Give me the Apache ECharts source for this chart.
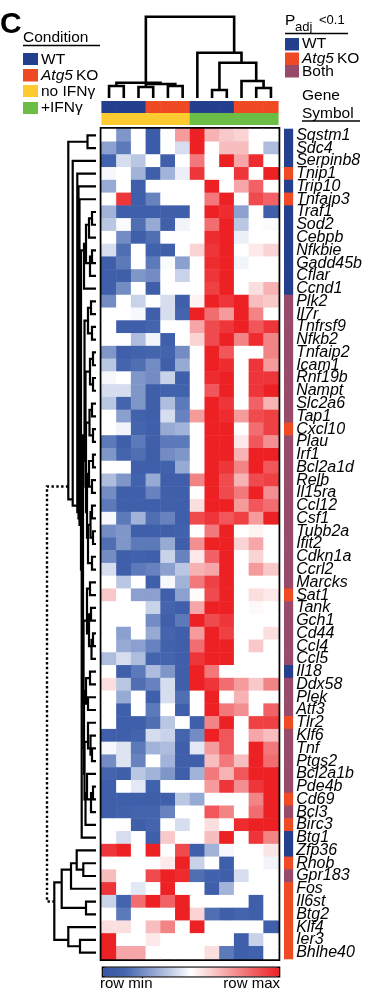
<!DOCTYPE html>
<html><head><meta charset="utf-8">
<script src="https://cdn.jsdelivr.net/npm/echarts@6/dist/echarts.min.js"></script>
<style>html,body{margin:0;padding:0;background:#fff}#c{width:365px;height:990px}</style>
</head><body><div id="c"></div>
<script>
const genes = ['Sqstm1','Sdc4','Serpinb8','Tnip1','Trip10','Tnfaip3','Traf1','Sod2','Cebpb','Nfkbie','Gadd45b','Cflar','Ccnd1','Plk2','Il7r','Tnfrsf9','Nfkb2','Tnfaip2','Icam1','Rnf19b','Nampt','Slc2a6','Tap1','Cxcl10','Plau','Irf1','Bcl2a1d','Relb','Il15ra','Ccl12','Csf1','Tubb2a','Ifit2','Cdkn1a','Ccrl2','Marcks','Sat1','Tank','Gch1','Cd44','Ccl4','Ccl5','Il18','Ddx58','Plek','Atf3','Tlr2','Klf6','Tnf','Ptgs2','Bcl2a1b','Pde4b','Cd69','Bcl3','Birc3','Btg1','Zfp36','Rhob','Gpr183','Fos','Il6st','Btg2','Klf4','Ier3','Bhlhe40'];
const samples = ['WT-1','WT-2','WT-3','KO-1','KO-2','KO-3','WT+1','WT+2','WT+3','KO+1','KO+2','KO+3'];
const genotype = ['WT','WT','WT','KO','KO','KO','WT','WT','WT','KO','KO','KO'];
const treatment = ['no','no','no','no','no','no','ifn','ifn','ifn','ifn','ifn','ifn'];
const significance = ['WT','WT','WT','KO','WT','KO','WT','WT','WT','WT','WT','WT','WT','Both','Both','Both','Both','Both','Both','Both','Both','Both','Both','KO','Both','Both','Both','Both','Both','Both','Both','Both','Both','Both','Both','Both','KO','Both','Both','Both','Both','Both','WT','Both','Both','Both','KO','Both','Both','Both','Both','Both','KO','Both','KO','WT','WT','KO','Both','KO','KO','KO','KO','KO','KO'];
const rowScores = [
[0,-0.5,0,-0.9,0,0.45,1,0.35,0.25,0.2,0,0],
[-0.45,-0.65,0,-0.9,0,-0.15,1,0,0.3,0.3,0,-0.3],
[-0.8,-0.15,-0.25,0,-0.85,0,0.6,0,1,0.4,0.95,0],
[-0.03,0,-0.35,-0.85,-0.35,-0.07,0.9,0,0,0.9,0,1],
[-0.4,0,-0.85,0,0,0,0,1,0,0.4,0.7,0],
[0,0.9,-0.85,-0.6,0,0,0,0.6,1,0,0.8,0.7],
[-0.35,-0.85,-0.85,-0.85,-0.85,-0.85,0,1,0.95,-0.45,0,-0.85],
[-0.25,-0.02,-0.7,-0.4,-0.85,-0.05,0,0.65,1,-0.25,0,-0.02],
[0,-0.55,-0.85,-0.7,0,0,0,0.95,1,-0.07,0,0],
[-0.15,-0.7,0,-0.8,-0.85,0,0.2,0.9,1,0,0.1,0.2],
[-0.85,-0.65,0,-0.65,-0.02,-0.45,0,0.95,1,-0.05,0,0],
[-0.85,-0.85,-0.5,-0.55,0,-0.2,0,0.9,1,0,0,0],
[-0.85,-0.55,0,-0.85,0,0,0,0.85,1,0,0.15,0.35],
[-0.55,0,-0.2,0,-0.15,-0.85,0.05,1,0.9,1,0.3,0.25],
[0,0,-0.03,-0.85,-0.15,-0.75,1,0.65,0.45,1,0.55,0],
[0,-0.85,-0.85,-0.75,0,0,0.4,0.8,0.9,1,0.75,0.9],
[0,0,-0.3,-0.05,-0.85,0,0.2,0.8,1,0.55,0.95,0.55],
[-0.5,-0.85,-0.8,-0.75,-0.75,-0.55,0,1,0.75,0,0,0.55],
[-0.25,-0.75,-0.7,-0.55,-0.85,-0.4,0,1,0.95,0,0.9,0.45],
[-0.03,0,-0.5,-0.55,-0.2,-0.85,0,0.95,1,0,0.9,0.9],
[-0.15,-0.15,-0.5,-0.85,-0.8,-0.8,0,0.75,1,0,0.9,1],
[-0.25,-0.75,-0.5,-0.85,-0.3,-0.65,0,1,0.9,0,0.7,0.35],
[0,-0.45,-0.8,-0.85,-0.15,-0.6,0.45,1,0.95,0.45,0.8,0.85],
[0,-0.05,-0.75,-0.85,-0.4,-0.35,0,1,1,0,0.65,0.85],
[-0.65,-0.85,-0.65,-0.85,-0.65,-0.65,0,1,1,0.1,0.75,0.5],
[-0.5,-0.75,-0.7,-0.85,-0.55,-0.5,0,1,1,0.35,1,1],
[0,0,-0.85,-0.85,-0.8,-0.4,0,1,0.9,0.55,1,0.75],
[-0.3,-0.5,-0.8,-0.4,-0.85,-0.85,0.55,1,0.8,0.35,0.8,0.85],
[-0.55,-0.85,-0.85,-0.6,-0.85,-0.85,0,1,0.8,0.6,1,0.5],
[-0.65,-0.85,-0.85,-0.85,-0.85,-0.85,0.15,1,1,0.45,0.75,0.65],
[-0.03,-0.65,-0.35,-0.7,-0.6,-0.85,0.8,0.9,0.75,0.85,0.45,1],
[-0.55,-0.5,-0.85,-0.85,-0.85,-0.8,0,0.6,1,0,0.05,0],
[-0.7,-0.5,-0.65,-0.65,-0.4,-0.85,0.5,1,1,0.2,0.4,0],
[-0.55,-0.85,-0.8,-0.85,-0.2,-0.6,0.1,0.7,1,0,0.2,0],
[-0.15,-0.85,-0.65,-0.6,-0.45,-0.25,0.35,0.4,1,0,0.45,0.25],
[0,-0.25,0,-0.85,-0.03,-0.35,0.6,0.85,1,0,0,0],
[0.25,0,-0.45,-0.45,-0.85,-0.45,0.02,0.8,1,0,0.15,0.1],
[0,0,0,-0.2,-0.75,-0.85,0.4,1,1,0,0.03,0],
[0,0,0,-0.55,-0.85,-0.65,1,0.8,0.9,0,0,0],
[0,-0.45,0,-0.4,-0.75,-0.85,0.45,1,0.85,0.01,0,0.15],
[0,-0.4,-0.45,-0.6,-0.8,-0.85,0.65,1,1,0,0.25,0],
[-0.3,-0.15,-0.3,-0.75,-0.75,-0.85,0.9,1,1,0,0,0],
[0,-0.85,-0.65,-0.3,-0.5,-0.85,1,0.6,0,0,0,0],
[0.15,-0.25,-0.7,-0.6,-0.15,-0.85,1,0.9,0.65,0.45,0.25,0.55],
[0,-0.4,0,-0.85,-0.15,-0.7,0,1,0,0.35,0,0],
[0,-0.85,0,-0.65,0,-0.85,0,1,0.6,0.5,0,0.7],
[0,-0.85,-0.85,-0.7,-0.25,0,-0.85,0.55,1,0,0.85,0.85],
[-0.85,-0.85,-0.75,-0.15,-0.2,-0.75,-0.55,1,0.75,0,0.4,0.3],
[-0.03,-0.12,-0.65,-0.35,-0.3,-0.85,-0.1,0.45,0.75,0,1,0.6],
[-0.55,-0.12,-0.6,0,-0.35,-0.85,-0.85,0.3,0.6,0.3,1,0.65],
[-0.75,-0.85,-0.25,-0.35,-0.5,-0.85,-0.35,0.6,0.35,0.75,1,1],
[-0.85,0,-0.1,-0.8,0,0,0,0.45,0.9,0.5,0.9,1],
[-0.85,-0.85,-0.85,-0.85,-0.85,-0.25,-0.4,0,0,0,0.55,1],
[-0.85,-0.8,-0.75,-0.75,-0.6,0,0,0.75,0.55,0,0.65,1],
[0,0,-0.85,-0.75,0,-0.15,0,0.15,0,0.95,1,1],
[0,-0.15,0,-0.85,0.25,0,0,0.3,1,0,0.9,0.55],
[0.9,1,0,1,0,0.8,-0.85,-0.35,-0.03,0,0,0.12],
[0,0,0,0,0.1,1,-0.2,0,-0.85,0,0,-0.05],
[0.3,0,0,0.8,1,0.95,-0.7,-0.8,-0.85,-0.15,0,0],
[0.9,0,-0.1,0,1,0,0,-0.85,-0.35,0,0,0],
[-0.2,-0.75,0.65,1,0.7,1,0,0,0,0,-0.85,0],
[0,-0.65,0,0,0,1,0.2,-0.7,-0.85,-0.75,-0.85,0],
[0.15,0.15,0,0.3,0.55,0,1,0,0,0,0,-0.85],
[1,0,0,0.1,0,0,0,0,0,-0.85,-0.2,0],
[1,0.4,0.4,0,0,0,0,0.15,-0.65,-0.85,-0.8,0]
];
// dendrograms: [left, right, height]; leaves are row/column indices
const colTree = [[[0,1,12],[[2,3,11],[4,5,12],14],15.3],[6,[[7,8,8],[9,[10,11,10],17],35.3],45.3],81.3];
const rowTree = [
  [[0,1,8.5],[2,[3,[4,[5,[[[[[6,7,4],8,7],[[9,10,4],11,6],10],12,12],[[
    [[[13,14,5],[15,16,4],8],[[[17,18,3],[19,20,3],6],[[[21,22,4],[23,24,3],6.5],[[[25,26,3],[27,28,4],7],[[[29,30,4],[31,32,3],5.5],[33,34,4],8],9],10],10.5],11.5],
    [[[35,36,6],[[37,38,5],[[39,40,3],41,4.5],7],9],[[[42,43,6],[44,45,8],10],[[46,[47,[48,49,4],5.5],8],[[50,[[51,52,3],53,5],9],54,10.5],11.5],12],12.5],13],55,14.3],15],16.5],17.5],18.7],23.3],27.7],
  [[[[56,[57,58,12.7],19.3],59,25],[60,61,10],34.3],[62,[63,64,16],27.7],41.7],
  49];

const COLORS = {WT:'#253f8f', KO:'#ef4a23', Both:'#974a6a', no:'#fdca30', ifn:'#6cbd45'};
const FONT = "'Liberation Sans', Arial, sans-serif";

function buildLinks(tree, links) {
  if (typeof tree === 'number') return {pos: tree + 0.5, h: 0, leaves: [tree]};
  const L = buildLinks(tree[0], links), R = buildLinks(tree[1], links);
  const leaves = L.leaves.concat(R.leaves);
  const pos = leaves.reduce((s, v) => s + v + 0.5, 0) / leaves.length;
  links.push([L.pos, L.h, R.pos, R.h, tree[2], 0]);
  return {pos, h: tree[2], leaves};
}
const colLinks = []; buildLinks(colTree, colLinks);
const rowLinks = []; buildLinks(rowTree, rowLinks);
rowLinks[rowLinks.length - 1][5] = 1; // truncated root drawn dotted

const heatData = [];
rowScores.forEach((row, r) => row.forEach((v, c) => heatData.push([c, r, v])));
const annotData = [];
samples.forEach((s, c) => { annotData.push([c, 0, 0]); annotData.push([c, 1, 1]); });
const sigData = genes.map((g, r) => [0, r]);

const HX = 101.7, HW = 176.6, HT = 129, HH = 830;
const hidden = {show: false};
function catAxis(data, gi, extra) {
  return Object.assign({type: 'category', data, gridIndex: gi, axisLine: hidden, axisTick: hidden, axisLabel: hidden, splitLine: hidden}, extra || {});
}
function valAxis(gi, min, max, extra) {
  return Object.assign({type: 'value', gridIndex: gi, min, max, show: false}, extra || {});
}
const chart = echarts.init(document.getElementById('c'), null, {renderer: 'canvas'});

function txt(x, y, text, size, extra) {
  return {type: 'text', silent: true, style: Object.assign({x, y, text, fontSize: size, fontFamily: FONT, fill: '#000', verticalAlign: 'middle'}, extra || {})};
}
function sq(x, y, w, h, color) {
  return {type: 'rect', silent: true, shape: {x, y, width: w, height: h}, style: {fill: color}};
}
function uline(x1, x2, y, w) {
  return {type: 'line', silent: true, shape: {x1, y1: y, x2, y2: y}, style: {stroke: '#000', lineWidth: w || 1.6}};
}
const ital = {i: {fontStyle: 'italic', fontSize: 15.5, fontFamily: FONT, fill: '#000'}};

chart.setOption({
  animation: false,
  grid: [
    {left: HX, top: HT, width: HW, height: HH, show: true, borderColor: '#000', borderWidth: 4, backgroundColor: 'transparent'},
    {left: HX, top: 101, width: HW, height: 24},
    {left: 284, top: HT, width: 15, height: HH},
    {left: HX, top: 16, width: HW, height: 82},
    {left: 40, top: HT, width: 56, height: HH}
  ],
  xAxis: [
    catAxis(samples, 0),
    catAxis(samples, 1),
    catAxis(['Padj'], 2),
    valAxis(3, 0, 12),
    valAxis(4, 0, 56, {inverse: true})
  ],
  yAxis: [
    catAxis(genes, 0, {inverse: true}),
    catAxis(['Genotype', 'Treatment'], 1, {inverse: true}),
    catAxis(genes, 2, {inverse: true, position: 'right', axisLabel: {show: true, margin: 3, fontSize: 16, fontStyle: 'italic', fontFamily: FONT, color: '#000', interval: 0}}),
    valAxis(3, 0, 82),
    valAxis(4, 0, 65, {inverse: true})
  ],
  visualMap: {
    type: 'continuous', seriesIndex: 0, min: -1, max: 1, orient: 'horizontal',
    left: HX, top: 966.5, itemWidth: 9, itemHeight: HW, calculable: false, hoverLink: false,
    padding: 0, borderColor: '#000', borderWidth: 2,
    inRange: {color: ['#3756a5', '#4465ae', '#7f96c9', '#bac7e3', '#ffffff', '#f9c9ca', '#f48f91', '#f0565a', '#ed2024']}
  },
  series: [
    {type: 'heatmap', xAxisIndex: 0, yAxisIndex: 0, data: heatData, itemStyle: {borderWidth: 0}, emphasis: {disabled: true}, z: 2},
    {type: 'custom', xAxisIndex: 1, yAxisIndex: 1, data: annotData, silent: true,
      renderItem: (p, api) => {
        const c = api.value(0), k = api.value(1);
        const ctr = api.coord([c, k]), sz = api.size([1, 1]);
        const color = k === 0 ? COLORS[genotype[c]] : COLORS[treatment[c]];
        return {type: 'rect', shape: {x: ctr[0] - sz[0] / 2 - 0.3, y: ctr[1] - sz[1] / 2, width: sz[0] + 0.6, height: sz[1]}, style: {fill: color}};
      }},
    {type: 'custom', xAxisIndex: 2, yAxisIndex: 2, data: sigData, silent: true,
      renderItem: (p, api) => {
        const r = api.value(1);
        const ctr = api.coord([0, r]), sz = api.size([1, 1]);
        return {type: 'rect', shape: {x: ctr[0] - sz[0] / 2, y: ctr[1] - sz[1] / 2 - 0.3, width: sz[0], height: sz[1] + 0.6}, style: {fill: COLORS[significance[r]]}};
      }},
    {type: 'custom', xAxisIndex: 3, yAxisIndex: 3, data: colLinks, silent: true,
      renderItem: (p, api) => {
        const a = api.value(0), ha = api.value(1), b = api.value(2), hb = api.value(3), h = api.value(4);
        return {type: 'polyline', shape: {points: [api.coord([a, ha]), api.coord([a, h]), api.coord([b, h]), api.coord([b, hb])]},
          style: {stroke: '#000', lineWidth: 2.6, fill: null, lineJoin: 'miter'}};
      }},
    {type: 'custom', xAxisIndex: 4, yAxisIndex: 4, data: rowLinks, silent: true,
      renderItem: (p, api) => {
        const a = api.value(0), ha = api.value(1), b = api.value(2), hb = api.value(3), h = api.value(4), dot = api.value(5);
        return {type: 'polyline', shape: {points: [api.coord([ha, a]), api.coord([h, a]), api.coord([h, b]), api.coord([hb, b])]},
          style: {stroke: '#000', lineWidth: dot ? 2.4 : 2.2, fill: null, lineDash: dot ? [2.4, 2.4] : null, lineJoin: 'miter'}};
      }}
  ],
  graphic: [
    txt(0, 25, 'C', 30, {fontWeight: 'bold'}),
    txt(23, 38, 'Condition', 15.5),
    uline(23, 100, 45.5),
    sq(23, 53, 15, 12, COLORS.WT), txt(41, 59.5, 'WT', 15.5),
    sq(23, 69, 15, 12.5, COLORS.KO), txt(41, 75.5, '{i|Atg5}\u2009KO', 15.5, {rich: ital}),
    sq(23, 85, 15, 12, COLORS.no), txt(41, 91.5, 'no IFN\u03b3', 15.5),
    sq(23, 102, 15, 12, COLORS.ifn), txt(41, 108, '+IFN\u03b3', 15.5),
    txt(285, 21, 'P', 15.5),
    txt(295, 27.5, 'adj', 13),
    txt(319, 20, '<0.1', 13),
    uline(285, 348, 33.5),
    sq(285, 38, 14, 12.5, COLORS.WT), txt(302, 44, 'WT', 15.5),
    sq(285, 52.5, 14, 12.5, COLORS.KO), txt(302, 58.5, '{i|Atg5}\u2009KO', 15.5, {rich: ital}),
    sq(285, 65, 14, 12.5, COLORS.Both), txt(302, 71.5, 'Both', 15.5),
    txt(302, 96, 'Gene', 15.5),
    txt(302, 114, 'Symbol', 15.5),
    uline(302, 360, 121),
    txt(100, 983.5, 'row min', 15),
    txt(280, 983.5, 'row max', 15, {align: 'right'})
  ]
});
</script></body></html>
